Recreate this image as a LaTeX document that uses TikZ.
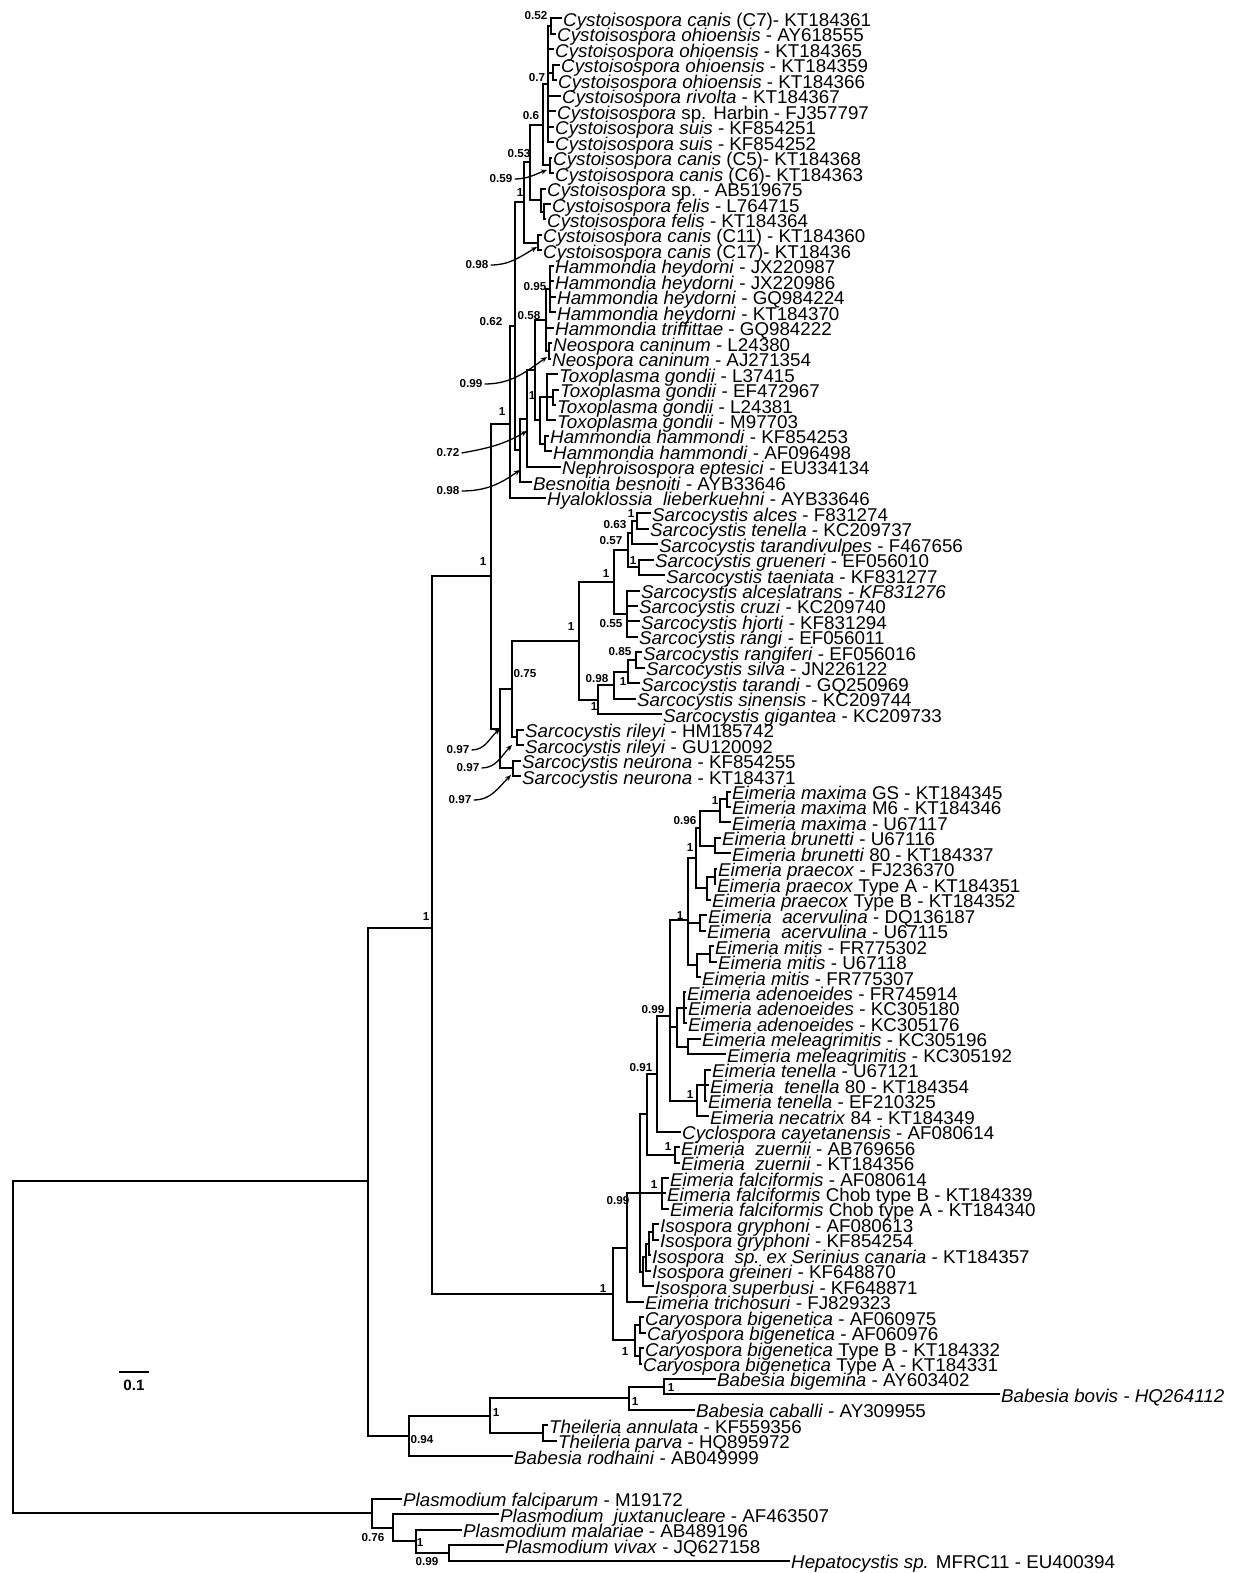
\documentclass[tikz,border=0pt]{standalone}
\usepackage{fontspec}
\setmainfont[FakeStretch=1.015]{Liberation Sans}
\usetikzlibrary{arrows.meta}
\newcommand\mkleaf[4]{%
  \coordinate (#1) at (#2,{18.5+15.46*(#3-1)});
  \node[lf] (#1t) at (#1) {#4};}
\newcommand\mkclade[4]{%
  \coordinate (#1) at (#2,{18.5+15.46*(#3-1)});
  \foreach \chd in {#4} {\draw[br] (#1) |- (\chd);}}
\begin{document}
\begin{tikzpicture}[x=1pt,y=-1pt,
  br/.style={line width=2pt},
  lf/.style={anchor=base west,inner sep=0pt,xshift=1pt,yshift=-8pt,font=\fontsize{18.5}{20}\selectfont},
  bs/.style={inner sep=0pt,font=\bfseries\fontsize{11.5}{12}\selectfont},
  arr/.style={line width=1.3pt,-{Stealth[length=6pt,width=5pt]}}]
\useasboundingbox (0,0) rectangle (1234,1573);
\fill[white] (0,0) rectangle (1234,1573);
% ---------- leaves ----------
\mkleaf{l1}{562}{1}{\textit{Cystoisospora canis} (C7)- KT184361}
\mkleaf{l2}{556}{2}{\textit{Cystoisospora ohioensis} - AY618555}
\mkleaf{l3}{554}{3}{\textit{Cystoisospora ohioensis} - KT184365}
\mkleaf{l4}{560}{4}{\textit{Cystoisospora ohioensis} - KT184359}
\mkleaf{l5}{557}{5}{\textit{Cystoisospora ohioensis} - KT184366}
\mkleaf{l6}{561}{6}{\textit{Cystoisospora rivolta} - KT184367}
\mkleaf{l7}{556}{7}{\textit{Cystoisospora} sp. Harbin - FJ357797}
\mkleaf{l8}{554}{8}{\textit{Cystoisospora suis} - KF854251}
\mkleaf{l9}{554}{9}{\textit{Cystoisospora suis} - KF854252}
\mkleaf{l10}{552}{10}{\textit{Cystoisospora canis} (C5)- KT184368}
\mkleaf{l11}{554}{11}{\textit{Cystoisospora canis} (C6)- KT184363}
\mkleaf{l12}{546}{12}{\textit{Cystoisospora} sp. - AB519675}
\mkleaf{l13}{551}{13}{\textit{Cystoisospora felis} - L764715}
\mkleaf{l14}{546}{14}{\textit{Cystoisospora felis} - KT184364}
\mkleaf{l15}{542}{15}{\textit{Cystoisospora canis} (C11) - KT184360}
\mkleaf{l16}{542}{16}{\textit{Cystoisospora canis} (C17)- KT18436}
\mkleaf{l17}{554}{17}{\textit{Hammondia heydorni} - JX220987}
\mkleaf{l18}{554}{18}{\textit{Hammondia heydorni} - JX220986}
\mkleaf{l19}{556}{19}{\textit{Hammondia heydorni} - GQ984224}
\mkleaf{l20}{556}{20}{\textit{Hammondia heydorni} - KT184370}
\mkleaf{l21}{554}{21}{\textit{Hammondia triffittae} - GQ984222}
\mkleaf{l22}{552}{22}{\textit{Neospora caninum} - L24380}
\mkleaf{l23}{551}{23}{\textit{Neospora caninum} - AJ271354}
\mkleaf{l24}{558}{24}{\textit{Toxoplasma gondii} - L37415}
\mkleaf{l25}{559}{25}{\textit{Toxoplasma gondii} - EF472967}
\mkleaf{l26}{556}{26}{\textit{Toxoplasma gondii} - L24381}
\mkleaf{l27}{556}{27}{\textit{Toxoplasma gondii} - M97703}
\mkleaf{l28}{549}{28}{\textit{Hammondia hammondi} - KF854253}
\mkleaf{l29}{552}{29}{\textit{Hammondia hammondi} - AF096498}
\mkleaf{l30}{561}{30}{\textit{Nephroisospora eptesici} - EU334134}
\mkleaf{l31}{532}{31}{\textit{Besnoitia besnoiti} - AYB33646}
\mkleaf{l32}{546}{32}{\textit{Hyaloklossia\ \ lieberkuehni} - AYB33646}
\mkleaf{l33}{651}{33}{\textit{Sarcocystis alces} - F831274}
\mkleaf{l34}{649}{34}{\textit{Sarcocystis tenella} - KC209737}
\mkleaf{l35}{658}{35}{\textit{Sarcocystis tarandivulpes} - F467656}
\mkleaf{l36}{654}{36}{\textit{Sarcocystis grueneri} - EF056010}
\mkleaf{l37}{665}{37}{\textit{Sarcocystis taeniata} - KF831277}
\mkleaf{l38}{640}{38}{\textit{Sarcocystis alceslatrans - KF831276}}
\mkleaf{l39}{638}{39}{\textit{Sarcocystis cruzi} - KC209740}
\mkleaf{l40}{640}{40}{\textit{Sarcocystis hjorti} - KF831294}
\mkleaf{l41}{638}{41}{\textit{Sarcocystis rangi} - EF056011}
\mkleaf{l42}{642}{42}{\textit{Sarcocystis rangiferi} - EF056016}
\mkleaf{l43}{645}{43}{\textit{Sarcocystis silva} - JN226122}
\mkleaf{l44}{640}{44}{\textit{Sarcocystis tarandi} - GQ250969}
\mkleaf{l45}{636}{45}{\textit{Sarcocystis sinensis} - KC209744}
\mkleaf{l46}{662}{46}{\textit{Sarcocystis gigantea} - KC209733}
\mkleaf{l47}{524}{47}{\textit{Sarcocystis rileyi} - HM185742}
\mkleaf{l48}{524}{48}{\textit{Sarcocystis rileyi} - GU120092}
\mkleaf{l49}{521}{49}{\textit{Sarcocystis neurona} - KF854255}
\mkleaf{l50}{521}{50}{\textit{Sarcocystis neurona} - KT184371}
\mkleaf{l51}{731}{51}{\textit{Eimeria maxima} GS - KT184345}
\mkleaf{l52}{731}{52}{\textit{Eimeria maxima} M6 - KT184346}
\mkleaf{l53}{731}{53}{\textit{Eimeria maxima} - U67117}
\mkleaf{l54}{721}{54}{\textit{Eimeria brunetti} - U67116}
\mkleaf{l55}{731}{55}{\textit{Eimeria brunetti} 80 - KT184337}
\mkleaf{l56}{717}{56}{\textit{Eimeria praecox} - FJ236370}
\mkleaf{l57}{716}{57}{\textit{Eimeria praecox} Type A - KT184351}
\mkleaf{l58}{711}{58}{\textit{Eimeria praecox} Type B - KT184352}
\mkleaf{l59}{707}{59}{\textit{Eimeria\ \ acervulina} - DQ136187}
\mkleaf{l60}{706}{60}{\textit{Eimeria\ \ acervulina} - U67115}
\mkleaf{l61}{714}{61}{\textit{Eimeria mitis} - FR775302}
\mkleaf{l62}{717}{62}{\textit{Eimeria mitis} - U67118}
\mkleaf{l63}{701}{63}{\textit{Eimeria mitis} - FR775307}
\mkleaf{l64}{686}{64}{\textit{Eimeria adenoeides} - FR745914}
\mkleaf{l65}{687}{65}{\textit{Eimeria adenoeides} - KC305180}
\mkleaf{l66}{687}{66}{\textit{Eimeria adenoeides} - KC305176}
\mkleaf{l67}{701}{67}{\textit{Eimeria meleagrimitis} - KC305196}
\mkleaf{l68}{726}{68}{\textit{Eimeria meleagrimitis} - KC305192}
\mkleaf{l69}{711}{69}{\textit{Eimeria tenella} - U67121}
\mkleaf{l70}{709}{70}{\textit{Eimeria\ \ tenella} 80 - KT184354}
\mkleaf{l71}{707}{71}{\textit{Eimeria tenella} - EF210325}
\mkleaf{l72}{709}{72}{\textit{Eimeria necatrix} 84 - KT184349}
\mkleaf{l73}{681}{73}{\textit{Cyclospora cayetanensis} - AF080614}
\mkleaf{l74}{680}{74}{\textit{Eimeria\ \ zuernii} - AB769656}
\mkleaf{l75}{680}{75}{\textit{Eimeria\ \ zuernii} - KT184356}
\mkleaf{l76}{669}{76}{\textit{Eimeria falciformis} - AF080614}
\mkleaf{l77}{666}{77}{\textit{Eimeria falciformis} Chob type B - KT184339}
\mkleaf{l78}{669}{78}{\textit{Eimeria falciformis} Chob type A - KT184340}
\mkleaf{l79}{659}{79}{\textit{Isospora gryphoni} - AF080613}
\mkleaf{l80}{659}{80}{\textit{Isospora gryphoni} - KF854254}
\mkleaf{l81}{651}{81}{\textit{Isospora\ \ sp. ex Serinius canaria} - KT184357}
\mkleaf{l82}{651}{82}{\textit{Isospora greineri} - KF648870}
\mkleaf{l83}{654}{83}{\textit{Isospora superbusi} - KF648871}
\mkleaf{l84}{644}{84}{\textit{Eimeria trichosuri} - FJ829323}
\mkleaf{l85}{644}{85}{\textit{Caryospora bigenetica} - AF060975}
\mkleaf{l86}{646}{86}{\textit{Caryospora bigenetica} - AF060976}
\mkleaf{l87}{644}{87}{\textit{Caryospora bigenetica} Type B - KT184332}
\mkleaf{l88}{642}{88}{\textit{Caryospora bigenetica} Type A - KT184331}
\mkleaf{l89}{716}{89}{\textit{Babesia bigemina} - AY603402}
\mkleaf{l90}{1000}{90}{\textit{Babesia bovis - HQ264112}}
\mkleaf{l91}{695}{91}{\textit{Babesia caballi} - AY309955}
\mkleaf{l92}{548}{92}{\textit{Theileria annulata} - KF559356}
\mkleaf{l93}{557}{93}{\textit{Theileria parva} - HQ895972}
\mkleaf{l94}{513}{94}{\textit{Babesia rodhaini} - AB049999}
\mkleaf{l95}{402}{96.75}{\textit{Plasmodium falciparum} - M19172}
\mkleaf{l96}{499}{97.75}{\textit{Plasmodium\ \ juxtanucleare} - AF463507}
\mkleaf{l97}{462}{98.75}{\textit{Plasmodium malariae} - AB489196}
\mkleaf{l98}{504}{99.75}{\textit{Plasmodium vivax} - JQ627158}
\mkleaf{l99}{790}{100.75}{\textit{Hepatocystis sp.} MFRC11 - EU400394}
% ---------- clades ----------
\mkclade{N1}{551}{1.5}{l1,l2}
\mkclade{N3}{553}{4.5}{l4,l5}
\mkclade{N2}{548}{5.25}{N1,l3,N3,l6,l7,l8,l9}
\mkclade{N5}{550}{10.5}{l10,l11}
\mkclade{N4}{543}{7.875}{N2,N5}
\mkclade{N8}{544}{13.5}{l13,l14}
\mkclade{N7}{541}{12.75}{l12,N8}
\mkclade{N6}{530}{10.31}{N4,N7}
\mkclade{N9}{538}{15.5}{l15,l16}
\mkclade{N10}{524}{12.9}{N6,N9}
\mkclade{H1}{550}{18.5}{l17,l18,l19,l20}
\mkclade{Neo}{549}{22.5}{l22,l23}
\mkclade{H2}{546}{20.5}{H1,l21,Neo}
\mkclade{T1}{553}{25.5}{l25,l26}
\mkclade{T}{547}{25.5}{l24,T1,l27}
\mkclade{HH}{545}{28.5}{l28,l29}
\mkclade{V1}{540}{27}{T,HH}
\mkclade{V2}{535}{23.75}{H2,V1}
\mkclade{U}{527}{26.875}{V2,l30}
\mkclade{R}{520}{28.94}{U,l31}
\mkclade{Q}{515}{20.92}{N10,R}
\mkclade{P}{510}{27.2}{Q,l32}
\mkclade{SA1}{637}{33.5}{l33,l34}
\mkclade{SA2}{632}{34.25}{SA1,l35}
\mkclade{SG}{639}{36.5}{l36,l37}
\mkclade{SA3}{628}{35.375}{SA2,SG}
\mkclade{SCR}{627}{39.5}{l38,l39,l40,l41}
\mkclade{SB}{614}{37.44}{SA3,SCR}
\mkclade{RS1}{636}{42.5}{l42,l43}
\mkclade{RS2}{628}{43.25}{RS1,l44}
\mkclade{RS3}{614}{44.125}{RS2,l45}
\mkclade{RS4}{598}{45.06}{RS3,l46}
\mkclade{SC1}{579}{41.25}{SB,RS4}
\mkclade{RI}{517}{47.5}{l47,l48}
\mkclade{SC2}{512}{44.375}{SC1,RI}
\mkclade{NE}{513}{49.5}{l49,l50}
\mkclade{SC3}{500}{46.94}{SC2,NE}
\mkclade{S}{491}{37.07}{P,SC3}
\mkclade{MX1}{727}{51.5}{l51,l52}
\mkclade{MX2}{720}{52.25}{MX1,l53}
\mkclade{BR}{715}{54.5}{l54,l55}
\mkclade{MB}{700}{53.375}{MX2,BR}
\mkclade{PR1}{715}{56.5}{l56,l57}
\mkclade{PR2}{707}{57.25}{PR1,l58}
\mkclade{MP}{696}{55.31}{MB,PR2}
\mkclade{AC}{700}{59.5}{l59,l60}
\mkclade{MI1}{710}{61.5}{l61,l62}
\mkclade{MI2}{697}{62.25}{MI1,l63}
\mkclade{MA}{688}{59.3}{MP,AC,MI2}
\mkclade{AD}{684}{65}{l64,l65,l66}
\mkclade{ME}{688}{67.5}{l67,l68}
\mkclade{AM}{677}{66.25}{AD,ME}
\mkclade{TN1}{705}{70}{l69,l70,l71}
\mkclade{TN}{697}{71}{TN1,l72}
\mkclade{E5}{670}{65.5}{MA,AM,TN}
\mkclade{E4}{657}{69.25}{E5,l73}
\mkclade{ZU}{675}{74.5}{l74,l75}
\mkclade{E3}{647}{71.875}{E4,ZU}
\mkclade{FA}{662}{77}{l76,l77,l78}
\mkclade{IG}{653}{79.5}{l79,l80}
\mkclade{IS1}{649}{80.25}{IG,l81}
\mkclade{IS2}{646}{81.125}{IS1,l82}
\mkclade{IS3}{643}{82.06}{IS2,l83}
\mkclade{E2}{640}{76.97}{E3,FA,IS3}
\mkclade{E1}{627}{80.5}{E2,l84}
\mkclade{CA1}{640}{85.5}{l85,l86}
\mkclade{CA2}{640}{87.5}{l87,l88}
\mkclade{CAR}{635}{86.5}{CA1,CA2}
\mkclade{E0}{613}{83.5}{E1,CAR}
\mkclade{A1}{432}{59.8}{S,E0}
\mkclade{BB1}{664}{89.5}{l89,l90}
\mkclade{BB2}{629}{90.25}{BB1,l91}
\mkclade{TH}{543}{92.5}{l92,l93}
\mkclade{BT1}{490}{91.375}{BB2,TH}
\mkclade{BT}{409}{92.69}{BT1,l94}
\mkclade{B0}{368}{76.2}{A1,BT}
\mkclade{PD}{449}{100.25}{l98,l99}
\mkclade{PC}{416}{99.5}{l97,PD}
\mkclade{PB}{393}{98.625}{l96,PC}
\mkclade{PA}{372}{97.69}{l95,PB}
\mkclade{root}{13}{87.0}{B0,PA}
% ---------- support values ----------
\node[bs] (s1) at (536,16) {0.52};
\node[bs] (s2) at (537,78) {0.7};
\node[bs] (s3) at (531,116) {0.6};
\node[bs] (s4) at (519,154) {0.53};
\node[bs] (s5) at (501,179) {0.59};
\node[bs] (s6) at (520,193) {1};
\node[bs] (s7) at (477,265) {0.98};
\node[bs] (s8) at (535,287) {0.95};
\node[bs] (s9) at (529,316) {0.58};
\node[bs] (s10) at (491,322) {0.62};
\node[bs] (s11) at (471,384) {0.99};
\node[bs] (s12) at (532,396) {1};
\node[bs] (s13) at (502,412) {1};
\node[bs] (s14) at (448,453) {0.72};
\node[bs] (s15) at (448,491) {0.98};
\node[bs] (s16) at (483,562) {1};
\node[bs] (s17) at (631,514) {1};
\node[bs] (s18) at (615,525) {0.63};
\node[bs] (s19) at (611,541) {0.57};
\node[bs] (s20) at (633,561) {1};
\node[bs] (s21) at (606,574) {1};
\node[bs] (s22) at (611,624) {0.55};
\node[bs] (s23) at (571,627) {1};
\node[bs] (s24) at (620,652) {0.85};
\node[bs] (s25) at (597,679) {0.98};
\node[bs] (s26) at (623,682) {1};
\node[bs] (s27) at (525,674) {0.75};
\node[bs] (s28) at (594,707) {1};
\node[bs] (s29) at (458,750) {0.97};
\node[bs] (s30) at (468,768) {0.97};
\node[bs] (s31) at (460,800) {0.97};
\node[bs] (s32) at (715,801) {1};
\node[bs] (s33) at (685,821) {0.96};
\node[bs] (s34) at (690,848) {1};
\node[bs] (s35) at (680,916) {1};
\node[bs] (s36) at (653,1010) {0.99};
\node[bs] (s37) at (641,1068) {0.91};
\node[bs] (s38) at (690,1095) {1};
\node[bs] (s39) at (668,1147) {1};
\node[bs] (s40) at (654,1185) {1};
\node[bs] (s41) at (618,1201) {0.99};
\node[bs] (s42) at (603,1289) {1};
\node[bs] (s43) at (625,1352) {1};
\node[bs] (s44) at (426,917) {1};
\node[bs] (s45) at (671,1388) {1};
\node[bs] (s46) at (635,1402) {1};
\node[bs] (s47) at (496,1413) {1};
\node[bs] (s48) at (422,1440) {0.94};
\node[bs] (s49) at (373,1538) {0.76};
\node[bs] (s50) at (420,1543) {1};
\node[bs] (s51) at (427,1562) {0.99};
% ---------- pointer arrows ----------
\coordinate (a5) at (547,170);
\coordinate (a7) at (537,247);
\coordinate (a11) at (547,357);
\coordinate (a14) at (527,431);
\coordinate (a15) at (520,470);
\coordinate (a29) at (500,729);
\coordinate (a30) at (512,745);
\coordinate (a31) at (511,775);
\draw[arr] (s5.east) ++(2,0) to[out=0,in=200] (a5);
\draw[arr] (s7.east) ++(2,0) to[out=0,in=210] (a7);
\draw[arr] (s11.east) ++(2,0) to[out=0,in=215] (a11);
\draw[arr] (s14.east) ++(2,0) to[out=10,in=210] (a14);
\draw[arr] (s15.east) ++(2,0) to[out=0,in=215] (a15);
\draw[arr] (s29.east) ++(2,0) to[out=0,in=220] (a29);
\draw[arr] (s30.east) ++(2,0) to[out=0,in=225] (a30);
\draw[arr] (s31.east) ++(2,0) to[out=0,in=225] (a31);
% ---------- scale bar ----------
\coordinate (sb1) at (119,1372);
\coordinate (sb2) at (149,1372);
\draw[line width=2pt] (sb1) -- (sb2);
\node[inner sep=0pt,font=\bfseries\fontsize{15}{16}\selectfont] (sbl) at (134,1385) {0.1};
\end{tikzpicture}
\end{document}
